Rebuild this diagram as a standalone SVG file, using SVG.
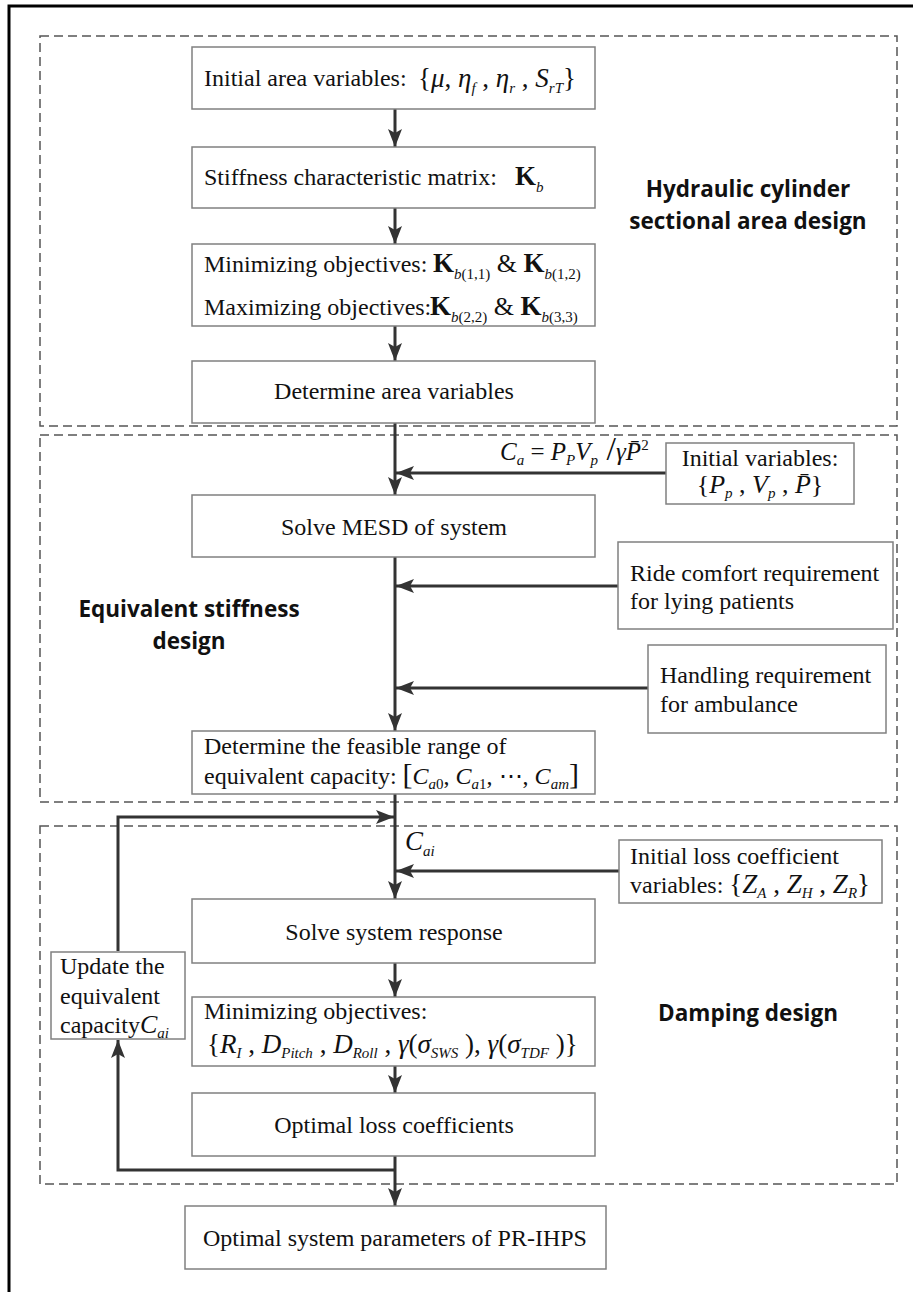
<svg xmlns="http://www.w3.org/2000/svg" width="913" height="1292" viewBox="0 0 913 1292">
<style>
.t{font-family:"Liberation Serif","Times New Roman",serif;font-size:24px;fill:#111}
.i{font-style:italic}
.s{font-size:15px}
.b{font-weight:bold}
.m{text-anchor:middle}
.h{font-family:"Open Sans","Liberation Sans",sans-serif;font-weight:bold;font-size:22.5px;fill:#111;text-anchor:middle}
.box{fill:#fff;stroke:#808080;stroke-width:1.5}
.dash{fill:none;stroke:#555;stroke-width:1.5;stroke-dasharray:9 5}
.c{fill:none;stroke:#333;stroke-width:3;marker-end:url(#ah)}
</style>
<defs>
<marker id="ah" markerUnits="userSpaceOnUse" viewBox="0 0 18 14" refX="18" refY="7" markerWidth="18" markerHeight="14" orient="auto">
<path d="M0,0 L18,7 L0,14 L4,7 z" fill="#333"/>
</marker>
</defs>
<rect width="913" height="1292" fill="#fff"/>
<rect x="9" y="6" width="1000" height="1400" fill="none" stroke="#000" stroke-width="3"/>
<g id="groups">
<rect class="dash" x="40" y="36" width="857" height="390"/>
<rect class="dash" x="40" y="435" width="857" height="367"/>
<rect class="dash" x="40" y="826" width="857" height="358"/>
<text class="h" x="748" y="197">Hydraulic cylinder</text>
<text class="h" x="748" y="229">sectional area design</text>
<text class="h" x="189" y="617">Equivalent stiffness</text>
<text class="h" x="189" y="649">design</text>
<text class="h" x="748" y="1021">Damping design</text>
</g>
<g id="connectors">
<path class="c" d="M395,109 V147"/>
<path class="c" d="M395,208 V244"/>
<path class="c" d="M395,326 V361"/>
<path class="c" d="M395,423 V495"/>
<path class="c" d="M666,473 H396"/>
<path class="c" d="M395,557 V731"/>
<path class="c" d="M618,586 H396"/>
<path class="c" d="M648,688 H396"/>
<path class="c" d="M395,794 V899"/>
<path class="c" d="M619,871 H396"/>
<path class="c" d="M395,963 V997"/>
<path class="c" d="M395,1066 V1093"/>
<path class="c" d="M395,1156 V1206"/>
<path class="c" d="M395,1170 H118 V1040"/>
<path class="c" d="M118,951 V817 H394"/>
<text class="t" x="500" y="460" style="font-size:25px"><tspan class="i">C</tspan><tspan class="s i" dy="5">a</tspan><tspan dy="-5"> = </tspan><tspan class="i">P</tspan><tspan class="s i" dy="5">P</tspan><tspan class="i" dy="-5">V</tspan><tspan class="s i" dy="5">p</tspan><tspan dy="-5" font-size="34"> /</tspan><tspan class="i">γ</tspan><tspan class="i">P̄</tspan><tspan class="s" dy="-10">2</tspan></text>
<text class="t" x="405" y="850" style="font-size:27px"><tspan class="i">C</tspan><tspan class="s i" dy="6">ai</tspan></text>
</g>
<g id="n1">
<rect class="box" x="192" y="47" width="403" height="62"/>
<text class="t" x="204" y="86">Initial area variables:</text>
<text class="t" x="418" y="87" style="font-size:27px">{<tspan class="i">μ</tspan>, <tspan class="i">η</tspan><tspan class="s i" dy="6">f</tspan><tspan dy="-6"> , </tspan><tspan class="i">η</tspan><tspan class="s i" dy="6">r</tspan><tspan dy="-6"> , </tspan><tspan class="i">S</tspan><tspan class="s i" dy="6">rT</tspan><tspan dy="-6">}</tspan></text>
</g>
<g id="n2">
<rect class="box" x="192" y="147" width="403" height="61"/>
<text class="t" x="204" y="185">Stiffness characteristic matrix:</text>
<text class="t" x="515" y="185"><tspan class="b" font-size="27">K</tspan><tspan class="s i" dy="7">b</tspan></text>
</g>
<g id="n3">
<rect class="box" x="192" y="244" width="403" height="82"/>
<text class="t" x="204" y="272">Minimizing objectives:</text>
<text class="t" x="433" y="272"><tspan class="b" font-size="27">K</tspan><tspan class="s" dy="7"><tspan class="i">b</tspan>(1,1)</tspan><tspan dy="-7" font-size="26"> &amp; </tspan><tspan class="b" font-size="27">K</tspan><tspan class="s" dy="7"><tspan class="i">b</tspan>(1,2)</tspan></text>
<text class="t" x="204" y="315">Maximizing objectives:</text>
<text class="t" x="430" y="315"><tspan class="b" font-size="27">K</tspan><tspan class="s" dy="7"><tspan class="i">b</tspan>(2,2)</tspan><tspan dy="-7" font-size="26"> &amp; </tspan><tspan class="b" font-size="27">K</tspan><tspan class="s" dy="7"><tspan class="i">b</tspan>(3,3)</tspan></text>
</g>
<g id="n4">
<rect class="box" x="192" y="361" width="403" height="62"/>
<text class="t m" x="394" y="399">Determine area variables</text>
</g>
<g id="n5">
<rect class="box" x="666" y="443" width="188" height="61"/>
<text class="t m" x="760" y="466">Initial variables:</text>
<text class="t m" x="760" y="493" style="font-size:26px">{<tspan class="i">P</tspan><tspan class="s i" dy="5">p</tspan><tspan dy="-5"> , </tspan><tspan class="i">V</tspan><tspan class="s i" dy="5">p</tspan><tspan dy="-5"> , </tspan><tspan class="i">P̄</tspan>}</text>
</g>
<g id="n6">
<rect class="box" x="192" y="495" width="403" height="62"/>
<text class="t m" x="394" y="535">Solve MESD of system</text>
</g>
<g id="n7">
<rect class="box" x="618" y="542" width="275" height="87"/>
<text class="t" x="630" y="581">Ride comfort requirement</text>
<text class="t" x="630" y="609">for lying patients</text>
</g>
<g id="n8">
<rect class="box" x="648" y="645" width="238" height="88"/>
<text class="t" x="660" y="683">Handling requirement</text>
<text class="t" x="660" y="712">for ambulance</text>
</g>
<g id="n9">
<rect class="box" x="192" y="731" width="403" height="63"/>
<text class="t" x="204" y="754">Determine the feasible range of</text>
<text class="t" x="204" y="784">equivalent capacity: <tspan font-size="30">[</tspan><tspan class="i">C</tspan><tspan class="s" dy="5"><tspan class="i">a</tspan>0</tspan><tspan dy="-5">, </tspan><tspan class="i">C</tspan><tspan class="s" dy="5"><tspan class="i">a</tspan>1</tspan><tspan dy="-5">, ⋯, </tspan><tspan class="i">C</tspan><tspan class="s i" dy="5">am</tspan><tspan dy="-5" font-size="30">]</tspan></text>
</g>
<g id="n10">
<rect class="box" x="619" y="840" width="263" height="63"/>
<text class="t" x="630" y="864">Initial loss coefficient</text>
<text class="t" x="630" y="893">variables: <tspan font-size="27">{</tspan><tspan class="i" font-size="27">Z</tspan><tspan class="s i" dy="5">A</tspan><tspan dy="-5" font-size="27"> , </tspan><tspan class="i" font-size="27">Z</tspan><tspan class="s i" dy="5">H</tspan><tspan dy="-5" font-size="27"> , </tspan><tspan class="i" font-size="27">Z</tspan><tspan class="s i" dy="5">R</tspan><tspan dy="-5" font-size="27">}</tspan></text>
</g>
<g id="n11">
<rect class="box" x="192" y="899" width="403" height="64"/>
<text class="t m" x="394" y="940">Solve system response</text>
</g>
<g id="n12">
<rect class="box" x="192" y="997" width="403" height="69"/>
<text class="t" x="204" y="1019">Minimizing objectives:</text>
<text class="t" x="207" y="1053" style="font-size:27px">{<tspan class="i">R</tspan><tspan class="s i" dy="5">I</tspan><tspan dy="-5"> , </tspan><tspan class="i">D</tspan><tspan class="s i" dy="5">Pitch</tspan><tspan dy="-5"> , </tspan><tspan class="i">D</tspan><tspan class="s i" dy="5">Roll</tspan><tspan dy="-5"> , </tspan><tspan class="i">γ</tspan>(<tspan class="i">σ</tspan><tspan class="s i" dy="5">SWS</tspan><tspan dy="-5"> ), </tspan><tspan class="i">γ</tspan>(<tspan class="i">σ</tspan><tspan class="s i" dy="5">TDF</tspan><tspan dy="-5"> )}</tspan></text>
</g>
<g id="n13">
<rect class="box" x="192" y="1093" width="403" height="63"/>
<text class="t m" x="394" y="1133">Optimal loss coefficients</text>
</g>
<g id="n14">
<rect class="box" x="51" y="952" width="134" height="87"/>
<text class="t" x="60" y="974">Update the</text>
<text class="t" x="60" y="1004">equivalent</text>
<text class="t" x="60" y="1033">capacity<tspan class="i" font-size="26">C</tspan><tspan class="s i" dy="5">ai</tspan></text>
</g>
<g id="n15">
<rect class="box" x="185" y="1206" width="421" height="63"/>
<text class="t m" x="395" y="1246">Optimal system parameters of PR-IHPS</text>
</g>
</svg>
